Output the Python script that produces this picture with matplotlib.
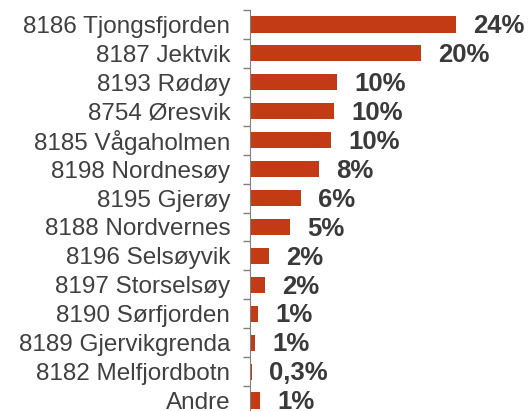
import numpy as np
import matplotlib.pyplot as plt
from matplotlib.ticker import FixedLocator

places = ['8186 Tjongsfjorden', '8187 Jektvik', '8193 Rødøy', '8754 Øresvik',
          '8185 Vågaholmen', '8198 Nordnesøy', '8195 Gjerøy', '8188 Nordvernes',
          '8196 Selsøyvik', '8197 Storselsøy', '8190 Sørfjorden',
          '8189 Gjervikgrenda', '8182 Melfjordbotn', 'Andre']
shares = [24.0, 19.9, 10.2, 9.8, 9.5, 8.1, 6.0, 4.7, 2.2, 1.8, 1.0, 0.6, 0.3, 1.2]
share_labels = ['24%', '20%', '10%', '10%', '10%', '8%', '6%', '5%', '2%', '2%',
                '1%', '1%', '0,3%', '1%']

plt.rcParams['font.family'] = ['Liberation Sans', 'DejaVu Sans']

fig = plt.figure(figsize=(5.29, 4.11), dpi=100)
ax = fig.add_axes([249.7 / 529, -4 / 411, 1 - 249.7 / 529, 1 - 10 / 411 + 4 / 411])

y = np.arange(len(places))
ax.barh(y, shares, height=0.56, color='#C23B14')
for yi, v, lab in zip(y, shares, share_labels):
    ax.text(v + 2.0, yi + 0.06, lab, va='center', ha='left', fontsize=18.5,
            fontweight='bold', color='#3a3a3a')

ax.set_ylim(len(places) - 0.5, -0.5)
ax.set_xlim(0, 32.5)
ax.set_yticks(y)
ax.set_yticklabels(places, fontsize=17.5, color='#404040')
ax.yaxis.set_minor_locator(FixedLocator(np.arange(-0.5, len(places), 1.0)))
ax.tick_params(axis='y', which='major', length=0, pad=14)
ax.tick_params(axis='y', which='minor', length=5, width=1, color='#808080')
ax.set_xticks([])
for s in ['top', 'right', 'bottom']:
    ax.spines[s].set_visible(False)
ax.spines['left'].set_color('#808080')

fig.savefig('out.png', dpi=100)
